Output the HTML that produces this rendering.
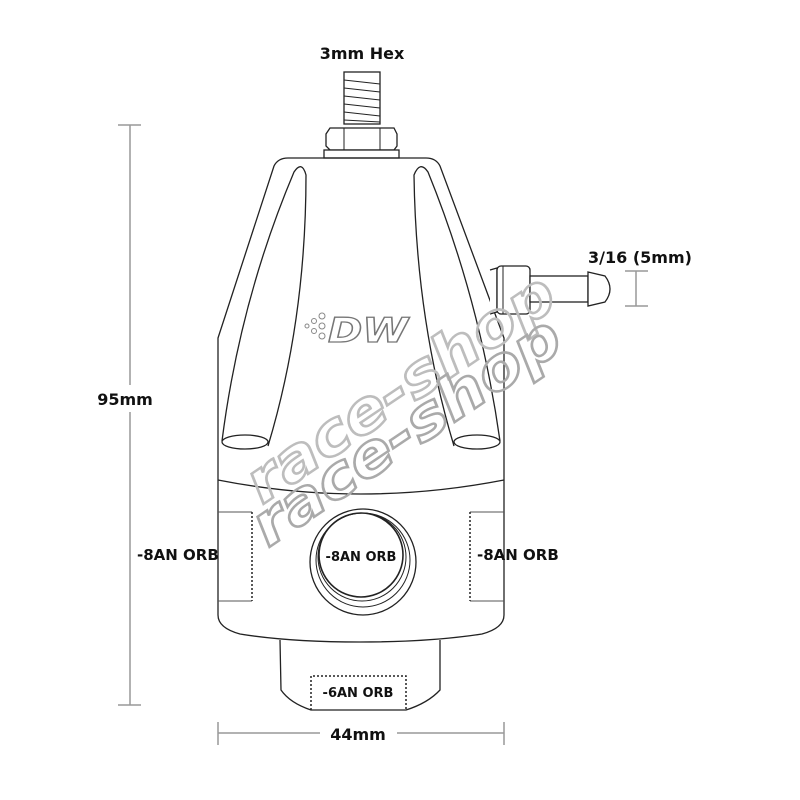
<!DOCTYPE html>
<html><head><meta charset="utf-8"><style>
html,body{margin:0;padding:0;background:#fff;}
svg{display:block}
text{font-family:"DejaVu Sans","Liberation Sans",sans-serif;font-weight:bold;fill:#111;}
</style></head><body>
<svg width="800" height="800" viewBox="0 0 800 800" xmlns="http://www.w3.org/2000/svg">
<g fill="none" stroke="#222" stroke-width="1.3">
<!-- stud -->
<rect x="344" y="72" width="36" height="52" fill="#fff"/>
<path d="M344 80 L380 84 M344 88 L380 92 M344 96 L380 100 M344 104 L380 108 M344 112 L380 116 M344 120 L380 122" stroke-width="1"/>
<!-- nut -->
<path d="M330 128 L394 128 L397 134 L397 146 L394 150 L330 150 L326 146 L326 134 Z" fill="#fff"/>
<path d="M344 128 V150 M380 128 V150" stroke-width="1"/>
<rect x="324" y="150" width="75" height="8" fill="#fff"/>
<!-- body upper -->
<path d="M218 338 L218 615 Q218 628 240 634 Q290 642 360 642 Q430 642 482 634 Q504 628 504 615 L504 338 L440 166 Q436 158 426 158 L288 158 Q278 158 274 166 Z"/>
<!-- seam -->
<path d="M218 480 Q360 508 504 480"/>
<!-- slots -->
<path d="M222 441 Q240 300 294 172 Q302 160 306 175 Q306 320 268 446"/>
<ellipse cx="245" cy="442" rx="23" ry="7"/>
<path d="M500 441 Q480 300 428 172 Q420 160 414 175 Q416 320 454 446"/>
<ellipse cx="477" cy="442" rx="23" ry="7"/>
<!-- lower stub -->
<path d="M280 640 L281 690 Q290 703 311 710 L406 710 Q428 703 440 690 L440 640"/>
<!-- center port -->
<circle cx="363" cy="562" r="53"/>
<circle cx="363" cy="560" r="47" stroke-width="1"/>
<circle cx="362" cy="557" r="44" stroke-width="1"/>
<circle cx="361" cy="555" r="42" stroke-width="1.6"/>
<!-- side ports -->
<path d="M218 512 H252 M218 601 H252" stroke="#555" stroke-width="1"/>
<path d="M252 512 V601" stroke-dasharray="2 2" stroke-width="1.5"/>
<path d="M504 512 H470 M504 601 H470" stroke="#555" stroke-width="1"/>
<path d="M470 512 V601" stroke-dasharray="2 2" stroke-width="1.5"/>
<!-- 6AN box -->
<path d="M311 710 V676 H406 V710" stroke-dasharray="2 2" stroke-width="1.5"/>
<!-- barb -->
<path d="M490 270 L497 268 L497 312 L490 314" fill="#fff"/>
<rect x="497" y="266" width="33" height="48" rx="4" fill="#fff"/>
<path d="M503 266 V314" stroke-width="1"/>
<rect x="530" y="276" width="58" height="26" fill="#fff"/>
<path d="M588 272 L605 276 Q615 289 605 302 L588 306 Z" fill="#fff"/>
</g>
<!-- dimension lines -->
<g stroke="#999" stroke-width="1.5" fill="none">
<path d="M118 125 H141 M130 125 V385 M130 412 V705 M118 705 H141"/>
<path d="M218 722 V745 M504 722 V745 M218 733 H320 M397 733 H504"/>
<path d="M625 271 H648 M636 271 V306 M625 306 H648"/>
</g>
<!-- watermark -->
<text x="0" y="0" transform="translate(262,505) rotate(-34)" font-size="58" font-style="italic" textLength="360" lengthAdjust="spacingAndGlyphs" style="fill:none;stroke:#bdbdbd;stroke-width:2.5">race-shop</text>
<text x="0" y="0" transform="translate(268,548) rotate(-34)" font-size="58" font-style="italic" textLength="360" lengthAdjust="spacingAndGlyphs" style="fill:none;stroke:#aaa;stroke-width:2.5">race-shop</text>
<!-- DW logo -->
<g fill="none" stroke="#888">
<circle cx="307" cy="326" r="2"/>
<circle cx="314" cy="321" r="2.5"/>
<circle cx="314" cy="331" r="2.5"/>
<circle cx="322" cy="316" r="3"/>
<circle cx="322" cy="326" r="3"/>
<circle cx="322" cy="336" r="3"/>
</g>
<text x="328" y="342" font-size="34" font-style="italic" textLength="80" lengthAdjust="spacingAndGlyphs" style="fill:#fff;stroke:#777;stroke-width:1.3">DW</text>
<!-- labels -->
<text x="362" y="59" font-size="16" text-anchor="middle">3mm Hex</text>
<text x="640" y="263" font-size="16" text-anchor="middle">3/16 (5mm)</text>
<text x="125" y="405" font-size="16" text-anchor="middle">95mm</text>
<text x="358" y="740" font-size="16" text-anchor="middle">44mm</text>
<text x="137" y="560" font-size="15">-8AN ORB</text>
<text x="477" y="560" font-size="15">-8AN ORB</text>
<text x="361" y="561" font-size="13" text-anchor="middle">-8AN ORB</text>
<text x="358" y="697" font-size="13" text-anchor="middle">-6AN ORB</text>
</svg>
</body></html>
